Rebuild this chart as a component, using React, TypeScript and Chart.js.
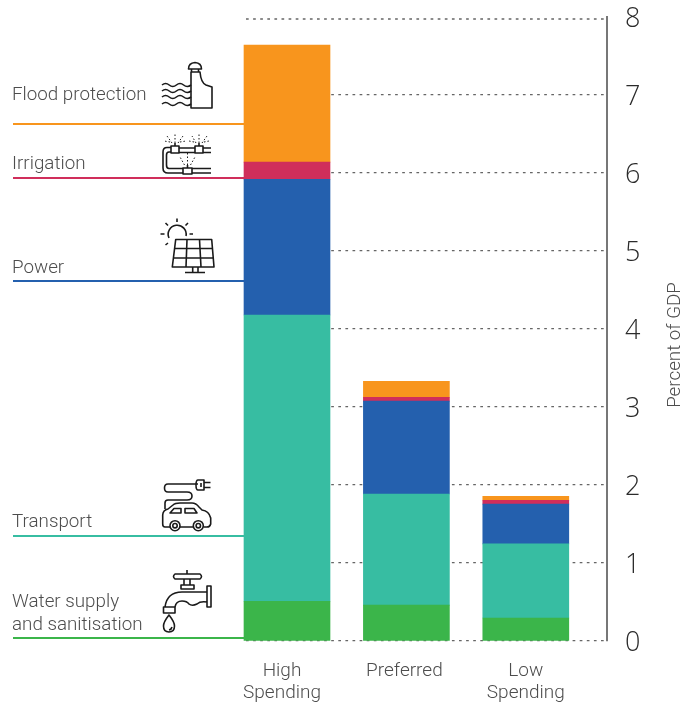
import React, { useEffect, useRef } from "react";
import { Chart, CategoryScale, registerables } from "chart.js";

const categories = [["High", "Spending"], "Preferred", ["Low", "Spending"]];
const waterSupply = [0.51, 0.46, 0.295];
const transport = [3.67, 1.425, 0.95];
const power = [1.74, 1.19, 0.51];
const irrigation = [0.22, 0.05, 0.05];
const floodProtection = [1.5, 0.205, 0.05];
const axisTitle = "Percent of GDP";

const ORANGE = "#F8951D";
const RED = "#D02E5B";
const BLUE = "#2460AE";
const TEAL = "#37BDA2";
const GREEN = "#3BB54A";
const TEXT = "#4D4D4D";
const GRID = "#666666";

const sideLabels = [
  { lines: ["Flood protection"], baselines: [100], lineY: 124, color: ORANGE },
  { lines: ["Irrigation"], baselines: [169], lineY: 178, color: RED },
  { lines: ["Power"], baselines: [273], lineY: 281, color: BLUE },
  { lines: ["Transport"], baselines: [527], lineY: 536, color: TEAL },
  { lines: ["Water supply", "and sanitisation"], baselines: [607, 630], lineY: 638, color: GREEN },
];

const strokeIcons = [
  // flood protection
  "M191 72V108H212V87L206 85Q201 83 200 72Z M188.5 69Q188.5 63 195 62.5Q201.5 63 201.5 69Z M191.5 69V72 M198.5 69V72",
  "M162 85q3.6-3 7.2 0t7.2 0t7.2 0t7.4 0 M162 91q3.6-3 7.2 0t7.2 0t7.2 0t7.4 0 M162 97q3.6-3 7.2 0t7.2 0t7.2 0t7.4 0 M162 104q3.6-3 7.2 0t7.2 0t7.2 0t7.4 0",
  // irrigation
  "M171 147.5H167Q163 147.5 163 152V168Q163 173 168 173H183 M171 152H169Q166.5 152 166.5 155V165Q166.5 168.5 169 168.5H183 M179 148H195 M179 152.5H195 M203 148H211 M203 152.5H211 M192 168.5H211 M192 173H211",
  "M171 146H179V153H171Z M195 146H203V153H195Z M183 168H192V174H183Z M175 146V143 M199 146V143 M187.5 168V165",
  // power
  "M169 238A9 9 0 1 1 186 236 M177 218.5V222 M165.5 223L168 225.5 M188 223L185.5 225.5 M160.5 234H164.5 M189.5 234H193 M165.5 245L168 243",
  "M175.7 239.5H211.7L214 267H172.3Z M187 239.5L186 267 M199.5 239.5L201 267 M174.6 248.5H212.6 M173.4 258H213.4 M192.7 267V272 M198 267V272 M185 272.5H205",
  // transport
  "M198 484H168Q164.5 484 164.5 488Q164.5 492 168 492H187Q192 492 192 496Q192 500 187 500H168Q165 500 165 503V509",
  "M198 480H204V490H198Q196 490 196 485Q196 480 198 480Z M204 482.5H210.5 M204 487.5H210.5 M201 483V487",
  "M170 527H165Q162.7 527 162.7 524V515Q163 510 168 509L173 505Q175 503 180 503H192Q196 503 199 507L202 510Q209 511 210.7 518V524Q210 527 207 527H203.5 M180 527H193.5",
  "M170 513H181V508.5H174Z M185 513H197L194 508.5H185Z",
  // tap
  "M175 574H200Q203 576.5 200 579H175Q172 576.5 175 574Z M187 574V570 M184 579V585 M190 579V585 M181 585H194V589H181Z",
  "M207 586V607H211V586Z M207 592H182Q167 592 165 607 M175 607Q176 601 182 601Q187 601 189 604Q192 606.5 197 604Q200 601 207 602 M163.5 607H175V613H163.5Z",
  "M169 615Q163.5 622 163.5 626Q163.5 632 169 632Q174.5 632 174.5 626Q174.5 622 169 615Z M172 627Q171.5 629.5 169 630",
];

const dottedIcons = [
  "M175 143V134 M172 143L167 136 M178 143L183 136 M170 142L164 141 M180 142L186 141",
  "M199 143V134 M196 143L192 136 M202 143L207 136 M194 142L189 141 M204 142L209 141",
  "M187.5 165V152 M184.5 165L180 157 M190.5 165L195 157",
];

const tickShift = [-5, -2, 0];
const gridDash = [2.7, 4.4];

class GappedCategoryScale extends CategoryScale {
  static id = "gappedCategory";
  static defaults = CategoryScale.defaults;
  configure() {
    super.configure();
    (this as any)._startValue = -0.3434;
    (this as any)._valueRange = 3.0235;
  }
  getPixelForTick(index: number) {
    return super.getPixelForTick(index) + tickShift[index];
  }
}

Chart.register(...registerables, GappedCategoryScale as any);

const noScalePadding = (s: any) => {
  s.paddingTop = 0;
  s.paddingBottom = 0;
  s.paddingLeft = 0;
  s.paddingRight = 0;
};

const annotations = {
  id: "annotations",
  beforeDatasetsDraw(chart: Chart) {
    // the top rule of the original sits just below the true position of 8
    const ctx = chart.ctx;
    const y = chart.scales.y.getPixelForValue(8) + 2;
    ctx.save();
    ctx.strokeStyle = GRID;
    ctx.lineWidth = 1.3;
    ctx.setLineDash(gridDash);
    ctx.beginPath();
    ctx.moveTo(chart.chartArea.left, y);
    ctx.lineTo(chart.chartArea.right, y);
    ctx.stroke();
    ctx.restore();
  },
  afterDatasetsDraw(chart: Chart) {
    const ctx = chart.ctx;
    ctx.save();
    ctx.textAlign = "left";
    ctx.textBaseline = "alphabetic";
    ctx.font = "300 18.8px Roboto";
    for (const item of sideLabels) {
      ctx.fillStyle = TEXT;
      item.lines.forEach((line, i) => ctx.fillText(line, 12, item.baselines[i]));
      ctx.strokeStyle = item.color;
      ctx.lineWidth = 2;
      ctx.beginPath();
      ctx.moveTo(13, item.lineY);
      ctx.lineTo(244, item.lineY);
      ctx.stroke();
    }
    ctx.strokeStyle = "#1a1a1a";
    ctx.lineWidth = 1.6;
    ctx.lineJoin = "round";
    for (const d of strokeIcons) ctx.stroke(new Path2D(d));
    ctx.lineWidth = 1;
    ctx.setLineDash([1.5, 2]);
    for (const d of dottedIcons) ctx.stroke(new Path2D(d));
    ctx.setLineDash([]);
    ctx.lineWidth = 1.6;
    for (const [x, y, r] of [[175, 525.7, 5], [175, 525.7, 2.2], [198.3, 525.7, 5], [198.3, 525.7, 2.2]]) {
      ctx.beginPath();
      ctx.arc(x, y, r, 0, Math.PI * 2);
      ctx.stroke();
    }
    ctx.translate(680, 345);
    ctx.rotate(-Math.PI / 2);
    ctx.textAlign = "center";
    ctx.textBaseline = "alphabetic";
    ctx.font = "300 18.8px Roboto";
    ctx.fillStyle = TEXT;
    ctx.fillText(axisTitle, 0, 0);
    ctx.restore();
  },
};

export default function App() {
  const ref = useRef<HTMLCanvasElement>(null);
  useEffect(() => {
    const bar = (label: string, data: number[], color: string) => ({
      label,
      data,
      backgroundColor: color,
      borderWidth: 0,
      barThickness: 86,
      clip: false as any,
    });
    const chart = new Chart(ref.current!, {
      type: "bar",
      data: {
        labels: categories as any,
        datasets: [
          bar("Water supply and sanitisation", waterSupply, GREEN),
          bar("Transport", transport, TEAL),
          bar("Power", power, BLUE),
          bar("Irrigation", irrigation, RED),
          bar("Flood protection", floodProtection, ORANGE),
        ],
      },
      options: {
        responsive: false,
        animation: false,
        layout: { autoPadding: false, padding: { left: 246, top: 17, right: 0, bottom: 0 } },
        plugins: { legend: { display: false }, tooltip: { enabled: false } },
        scales: {
          x: {
            type: "gappedCategory" as any,
            stacked: true,
            grid: { display: false },
            border: { display: false },
            afterFit: (s: any) => { s.height = 61; noScalePadding(s); },
            ticks: {
              color: TEXT,
              font: { family: "Roboto", size: 19, weight: "300" as any, lineHeight: 1.16 },
              padding: 11,
              maxRotation: 0,
              autoSkip: false,
            },
          },
          y: {
            position: "right",
            stacked: true,
            min: 0,
            max: 8,
            afterFit: (s: any) => { s.width = 74; noScalePadding(s); },
            grid: {
              color: (c: any) => (c.tick && c.tick.value === 8 ? "rgba(0,0,0,0)" : GRID),
              lineWidth: 1.3,
              drawTicks: false,
            },
            border: { display: true, color: "#777777", width: 2, dash: gridDash },
            ticks: {
              stepSize: 1,
              color: "#2b2b2b",
              font: { family: "Open Sans", size: 27, weight: "300" as any },
              padding: 18,
              labelOffset: 2,
            },
          },
        },
      },
      plugins: [annotations],
    });
    return () => chart.destroy();
  }, []);
  return (
    <div style={{ position: "absolute", left: 0, top: 0, width: 681, height: 702 }}>
      <canvas ref={ref} width={681} height={702} style={{ display: "block" }} />
    </div>
  );
}
